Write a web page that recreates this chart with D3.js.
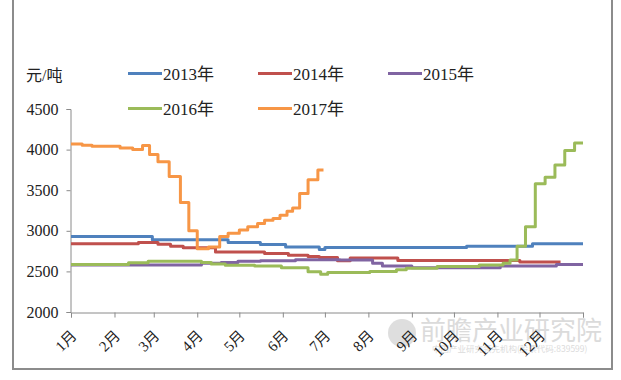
<!DOCTYPE html>
<html><head><meta charset="utf-8">
<script src="https://cdn.jsdelivr.net/npm/d3@7"></script>
<style>
html,body{margin:0;padding:0;background:#fff;}
svg{display:block;}
text{font-family:"Liberation Serif","Noto Sans CJK SC",serif;fill:#222;}
</style></head>
<body>
<svg id="c" width="621" height="380"></svg>
<script>
// ---- data ----
const unitLabel = "元/吨";
const monthLabels = ["1月","2月","3月","4月","5月","6月","7月","8月","9月","10月","11月","12月"];
const monthStartDays = [0,31,59,90,120,151,181,212,243,273,304,334,365];
const yTicks = [2000,2500,3000,3500,4000,4500];
const seriesNames = ["2013年","2014年","2015年","2016年","2017年"];
const seriesColors = ["#4F81BD","#C0504D","#8064A2","#9BBB59","#F79646"];

const days2013 = [0,58,112,135,153,177,181,282,329,365];
const vals2013 = [2930,2890,2855,2830,2800,2770,2795,2810,2840,2840];

const days2014 = [0,48,62,71,80,103,138,155,169,177,190,199,233,320,349];
const vals2014 = [2840,2855,2835,2810,2790,2740,2720,2700,2685,2670,2630,2665,2635,2615,2615];

const days2015 = [0,93,107,119,135,160,192,215,222,243,306,346,365];
const vals2015 = [2580,2600,2610,2625,2630,2645,2640,2600,2565,2545,2565,2585,2585];

const days2016 = [0,41,55,93,100,110,131,150,169,178,183,213,232,239,261,291,308,313,318,324,331,338,345,352,359,365];
const vals2016 = [2585,2605,2625,2610,2590,2575,2565,2545,2495,2465,2485,2500,2520,2540,2560,2580,2600,2640,2810,3050,3580,3660,3810,3990,4080,4080];

const days2017 = [0,8,15,35,44,51,56,62,70,78,84,90,98,106,112,120,126,133,138,144,149,154,158,163,169,176,180];
const vals2017 = [4070,4055,4040,4020,4000,4050,3940,3850,3670,3350,3000,2780,2800,2930,2970,3010,3050,3090,3130,3150,3190,3240,3280,3460,3630,3750,3750];

const allDays = [days2013,days2014,days2015,days2016,days2017];
const allVals = [vals2013,vals2014,vals2015,vals2016,vals2017];

// ---- drawing ----
const svg = d3.select("#c");
const x = d3.scaleLinear().domain([0,365]).range([71,583]);
const y = d3.scaleLinear().domain([2000,4500]).range([312,109]);

// frame
svg.append("path").attr("d","M13,0 V369 H612 V0").attr("fill","none")
  .attr("stroke","#8c8c8c").attr("stroke-width",2);

// watermark
const wm = svg.append("g").attr("opacity",0.45);
wm.append("circle").attr("cx",402).attr("cy",333).attr("r",14).attr("fill","#b8b8b8");
wm.append("text").attr("x",420).attr("y",340).attr("font-size",26)
  .style("font-family","'Noto Sans CJK SC'").style("fill","#b0b0b0").text("前瞻产业研究院");
wm.append("text").attr("x",432).attr("y",352).attr("font-size",8.5)
  .style("font-family","'Noto Sans CJK SC'").style("fill","#b0b0b0").text("中国产业研究领先机构(股票代码:839599)");

// y axis
const yAxis = d3.axisLeft(y).tickValues(yTicks).tickSize(4).tickPadding(8).tickFormat(d3.format("d"));
const gy = svg.append("g").attr("transform","translate(70.5,0)").call(yAxis);
gy.select(".domain").attr("stroke","#8a8a8a");
gy.selectAll(".tick line").attr("stroke","#8a8a8a");
gy.selectAll(".tick text").attr("font-size",16).style("font-family","'Liberation Serif'").style("fill","#222");

// x axis
const xAxis = d3.axisBottom(x).tickValues(monthStartDays).tickSize(5).tickFormat(()=>"");
const gx = svg.append("g").attr("transform","translate(0,312.5)").call(xAxis);
gx.select(".domain").attr("stroke","#8a8a8a");
gx.selectAll(".tick line").attr("stroke","#8a8a8a");
svg.append("g").selectAll("text").data(monthLabels).join("text")
  .attr("transform",(d,i)=>`translate(${x(monthStartDays[i])+3},333) rotate(-45)`)
  .attr("text-anchor","end").attr("dominant-baseline","central")
  .attr("font-size",15).text(d=>d);

// lines
const line = d3.line().x(d=>x(d[0])).y(d=>y(d[1])).curve(d3.curveStepAfter);
allDays.forEach((ds,i)=>{
  const pts = ds.map((d,j)=>[d, allVals[i][j]]);
  svg.append("path").datum(pts).attr("d",line).attr("fill","none")
    .attr("stroke",seriesColors[i]).attr("stroke-width",3).attr("stroke-linejoin","round");
});

// unit label
svg.append("text").attr("x",26).attr("y",75).attr("dominant-baseline","central")
  .attr("font-size",16).text(unitLabel);

// legend
const legPos = [[128,73.5],[258,73.5],[388,73.5],[128,108.5],[258,108.5]];
seriesNames.forEach((n,i)=>{
  const [lx,ly] = legPos[i];
  svg.append("line").attr("x1",lx).attr("x2",lx+34).attr("y1",ly).attr("y2",ly)
    .attr("stroke",seriesColors[i]).attr("stroke-width",3);
  svg.append("text").attr("x",lx+35).attr("y",ly+1).attr("dominant-baseline","central")
    .attr("font-size",17).text(n);
});
</script>
</body></html>
